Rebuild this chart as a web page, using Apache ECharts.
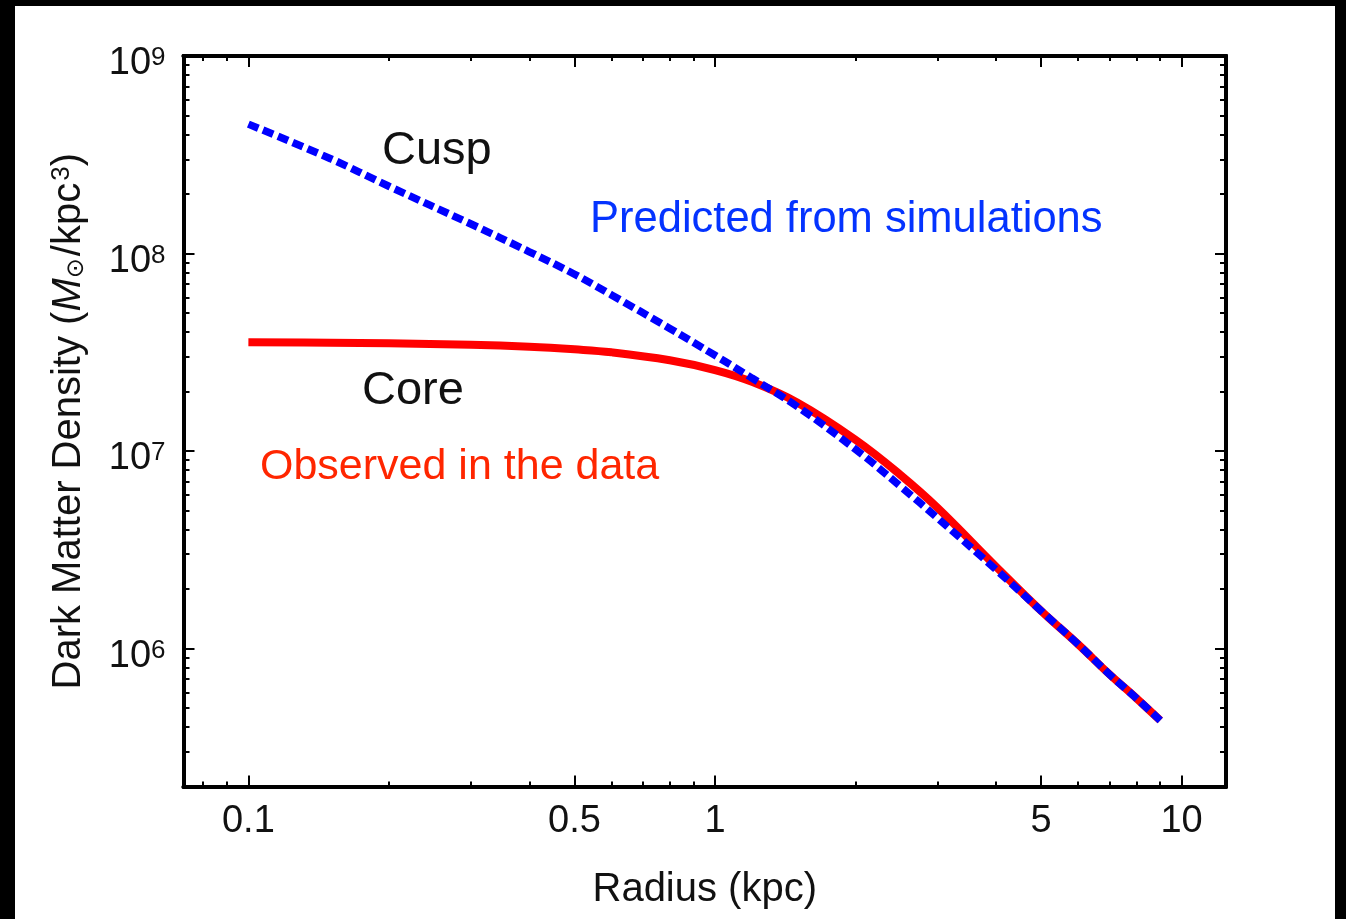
<!DOCTYPE html>
<html>
<head>
<meta charset="utf-8">
<script src="https://cdn.jsdelivr.net/npm/echarts@6/dist/echarts.min.js"></script>
<style>
  html, body { margin: 0; padding: 0; background: #000; width: 1346px; height: 919px; overflow: hidden; }
  #chart { position: absolute; left: 15px; top: 6px; width: 1320px; height: 913px; background: #fff; }
</style>
</head>
<body>
<div id="chart"></div>
<script>
// Radii (kpc) at which the two density profiles are sampled
const radius = [0.1, 0.15, 0.2, 0.3, 0.4, 0.5, 0.6, 0.8, 1, 1.2, 1.5, 2, 2.5, 3, 4, 5, 6, 7, 8, 9];

// Cuspy profile predicted by simulations (M_sun / kpc^3)
const cuspDensity = [4.52e8, 3.02e8, 2.19e8, 1.41e8, 1.02e8, 7.85e7, 6.17e7, 4.17e7, 3.05e7, 2.34e7,
                     1.68e7, 1.02e7, 6.61e6, 4.57e6, 2.51e6, 1.55e6, 1.05e6, 7.41e5, 5.60e5, 4.32e5];

// Cored profile observed in the data (M_sun / kpc^3)
const coreDensity = [3.55e7, 3.53e7, 3.51e7, 3.45e7, 3.37e7, 3.27e7, 3.16e7, 2.88e7, 2.57e7, 2.24e7,
                     1.76e7, 1.14e7, 7.55e6, 5.15e6, 2.60e6, 1.55e6, 1.05e6, 7.41e5, 5.60e5, 4.32e5];

// Tick positions
const xMajorTicks = [0.1, 0.5, 1, 5, 10];
const xMinorTicks = [0.08, 0.09, 0.2, 0.3, 0.4, 0.6, 0.7, 0.8, 0.9, 2, 3, 4, 6, 7, 8, 9];
const yMajorTicks = [1e6, 1e7, 1e8, 1e9];
const yMinorTicks = [2e5, 3e5, 4e5, 5e5, 6e5, 7e5, 8e5, 9e5,
                     2e6, 3e6, 4e6, 5e6, 6e6, 7e6, 8e6, 9e6,
                     2e7, 3e7, 4e7, 5e7, 6e7, 7e7, 8e7, 9e7,
                     2e8, 3e8, 4e8, 5e8, 6e8, 7e8, 8e8, 9e8];

const X_MIN = 0.0726, X_MAX = 12.45;
const Y_MIN = 2e5, Y_MAX = 1e9;
const FONT = "'Liberation Sans', Arial, Helvetica, sans-serif";

function xAxisDef(position, ticks, tickLen, withLabels) {
  return {
    type: 'log', logBase: 10, position: position, min: X_MIN, max: X_MAX,
    axisLine: { show: true, onZero: false, lineStyle: { color: '#000', width: 4 } },
    axisTick: { show: true, inside: true, length: tickLen, customValues: ticks,
                lineStyle: { color: '#000', width: 2 } },
    axisLabel: { show: withLabels, customValues: ticks, margin: 16, color: '#111',
                 fontFamily: FONT, fontSize: 38,
                 formatter: v => String(+(+v).toPrecision(3)) },
    minorTick: { show: false }, splitLine: { show: false }, minorSplitLine: { show: false }
  };
}

function yAxisDef(position, ticks, tickLen, withLabels) {
  return {
    type: 'log', logBase: 10, position: position, min: Y_MIN, max: Y_MAX,
    axisLine: { show: true, onZero: false, lineStyle: { color: '#000', width: 4 } },
    axisTick: { show: true, inside: true, length: tickLen, customValues: ticks,
                lineStyle: { color: '#000', width: 2 } },
    axisLabel: {
      show: withLabels, customValues: ticks, margin: 18, padding: [16, 0, 0, 0],
      formatter: v => '{b|10}{s|' + Math.round(Math.log10(v)) + '}',
      rich: {
        b: { fontFamily: FONT, fontSize: 38, color: '#111', lineHeight: 38, verticalAlign: 'bottom' },
        s: { fontFamily: FONT, fontSize: 26, color: '#111', lineHeight: 26, verticalAlign: 'top',
             padding: [0, 0, 20, 0] }
      }
    },
    minorTick: { show: false }, splitLine: { show: false }, minorSplitLine: { show: false }
  };
}

const xAxes = [
  Object.assign(xAxisDef('bottom', xMajorTicks, 11, true), {
    name: 'Radius (kpc)', nameLocation: 'middle', nameGap: 83,
    nameTextStyle: { fontFamily: FONT, fontSize: 40, color: '#111' }
  }),
  xAxisDef('bottom', xMinorTicks, 5, false),
  xAxisDef('top', xMajorTicks, 11, false),
  xAxisDef('top', xMinorTicks, 5, false)
];

const yAxes = [
  Object.assign(yAxisDef('left', yMajorTicks, 11, true), {
    name: '{n|Dark Matter Density (}{i|M}{sub|\u2299}{n|/kpc}{sup|3}{n|)}',
    nameLocation: 'middle', nameGap: 95, nameRotate: 90,
    nameTextStyle: {
      rich: {
        n: { fontFamily: FONT, fontSize: 40, color: '#111', lineHeight: 40, verticalAlign: 'middle' },
        i: { fontFamily: FONT, fontSize: 40, color: '#111', fontStyle: 'italic', lineHeight: 40, verticalAlign: 'middle' },
        sub: { fontFamily: "'DejaVu Sans', sans-serif", fontSize: 24, color: '#111', lineHeight: 24,
               verticalAlign: 'bottom', padding: [12, 2, 0, 0] },
        sup: { fontFamily: FONT, fontSize: 26, color: '#111', lineHeight: 26, verticalAlign: 'top',
               padding: [0, 0, 14, 2] }
      }
    }
  }),
  yAxisDef('left', yMinorTicks, 6, false),
  yAxisDef('right', yMajorTicks, 11, false),
  yAxisDef('right', yMinorTicks, 6, false)
];

const chart = echarts.init(document.getElementById('chart'), null, { renderer: 'canvas' });

chart.setOption({
  animation: false,
  backgroundColor: '#fff',
  grid: { left: 168.5, top: 50, right: 109, bottom: 132.5, containLabel: false },
  xAxis: xAxes,
  yAxis: yAxes,
  series: [
    {
      name: 'Core', type: 'line', xAxisIndex: 0, yAxisIndex: 0,
      data: radius.map((r, i) => [r, coreDensity[i]]),
      showSymbol: false, smooth: 0.4, z: 2,
      lineStyle: { color: '#ff0000', width: 8, cap: 'butt' }
    },
    {
      name: 'Cusp', type: 'line', xAxisIndex: 0, yAxisIndex: 0,
      data: radius.map((r, i) => [r, cuspDensity[i]]),
      showSymbol: false, smooth: 0.4, z: 3,
      lineStyle: { color: '#0000ff', width: 7.5, type: [11, 5], cap: 'butt' }
    }
  ],
  graphic: [
    { type: 'text', left: 367, top: 121.5, z: 10,
      style: { text: 'Cusp', fill: '#111', font: '47px ' + FONT } },
    { type: 'text', left: 575, top: 192, z: 10,
      style: { text: 'Predicted from simulations', fill: '#0433ff', font: '43.5px ' + FONT } },
    { type: 'text', left: 347, top: 361.5, z: 10,
      style: { text: 'Core', fill: '#111', font: '47px ' + FONT } },
    { type: 'text', left: 245, top: 440, z: 10,
      style: { text: 'Observed in the data', fill: '#ff2600', font: '43px ' + FONT } }
  ]
});
</script>
</body>
</html>
